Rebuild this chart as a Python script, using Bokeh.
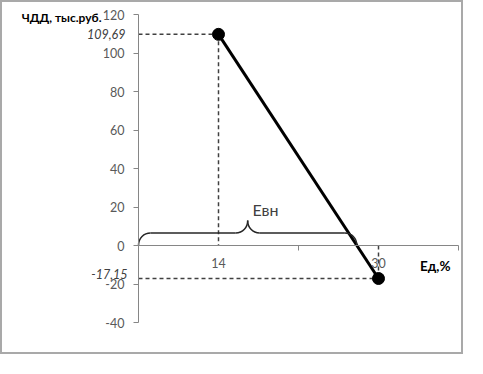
from bokeh.plotting import figure
from bokeh.models import (Range1d, LinearAxis, FixedTicker, Label)
from bokeh.embed import file_html
from bokeh.resources import INLINE

# ---- data ----
rates = ["14", "30"]                 # discount rate, %
npv = [109.69, -17.15]               # NPV (ЧДД), thousand rub.
npv_labels = ["109,69", "-17,15"]
y_ticks = [-40, -20, 0, 20, 40, 60, 80, 100, 120]
y_title = "ЧДД, тыс.руб."
x_title = "Ед,%"
irr_label = "Евн"

FONT = "Lato"
AX = "#868686"
xs = [i + 0.5 for i in range(len(rates))]

# layout: canvas 463x354, plot area from px 136..456 (x) and 12..320 (y)
W, H = 463, 354
L, R, T, B = 136, 7, 12, 34
kx = (W - L - R) / len(rates)
ky = (H - T - B) / (max(y_ticks) - min(y_ticks))
x_range = Range1d(-L / kx, len(rates) + R / kx)
y_range = Range1d(min(y_ticks) - B / ky, max(y_ticks) + T / ky)

p = figure(width=W, height=H, output_backend="svg", toolbar_location=None,
           x_range=x_range, y_range=y_range, x_axis_type=None, y_axis_type=None,
           min_border=0)
p.styles = {"border": "2px solid #a9a9a9"}
p.outline_line_color = None
p.background_fill_color = "white"

# y axis at x = 0
ya = LinearAxis(fixed_location=0, bounds=(min(y_ticks), max(y_ticks)),
                ticker=FixedTicker(ticks=y_ticks),
                major_label_overrides={t: str(t) for t in y_ticks})
ya.axis_line_color = AX
ya.major_tick_line_color = AX
ya.major_tick_out = 5
ya.major_tick_in = 0
ya.minor_tick_line_color = None
ya.major_label_text_font = FONT
ya.major_label_text_font_size = "12.5px"
ya.major_label_text_color = "#595959"
ya.major_label_standoff = 9
p.add_layout(ya, "left")

# x axis at y = 0
xa = LinearAxis(fixed_location=0, bounds=(0, len(rates)),
                ticker=FixedTicker(ticks=xs, minor_ticks=list(range(len(rates) + 1))),
                major_label_overrides={x: r for x, r in zip(xs, rates)})
xa.axis_line_color = AX
xa.major_tick_line_color = None
xa.major_tick_out = 0
xa.major_tick_in = 0
xa.minor_tick_line_color = AX
xa.minor_tick_out = 5
xa.minor_tick_in = 0
xa.major_label_text_font = FONT
xa.major_label_text_font_size = "12.5px"
xa.major_label_text_color = "#595959"
xa.major_label_standoff = 7
p.add_layout(xa, "below")

# dashed guide lines
dash_kw = dict(line_color="#404040", line_width=1.5, line_dash="4 3")
p.segment(x0=[0, xs[0]], y0=[npv[0], npv[0]], x1=[xs[0], xs[0]], y1=[npv[0], 0], **dash_kw)
p.segment(x0=[0, xs[1]], y0=[npv[1], 0], x1=[xs[1], xs[1]], y1=[npv[1], npv[1]], **dash_kw)

# main line + points
p.line(xs, npv, line_color="black", line_width=3)
p.scatter(xs, npv, size=12, color="black")

# brace from 0 to zero-crossing (IRR)
xc = xs[0] + npv[0] / (npv[0] - npv[1]) * (xs[1] - xs[0])
h = 6.5      # brace level
r = 0.075    # curl width
xm = xc / 2
bk = dict(line_color="#262626", line_width=1.5)
p.bezier(x0=[0, xm - r, xm + r, xc - r], y0=[0, h, h, h],
         x1=[r, xm, xm, xc], y1=[h, 2 * h, 2 * h, 0],
         cx0=[0, xm - r * 0.4, xm + r * 0.4, xc - r * 0.45], cy0=[h * 0.6, h, h, h],
         cx1=[r * 0.45, xm, xm, xc], cy1=[h, h * 1.45, h * 1.45, h * 0.6], **bk)
p.segment(x0=[r, xm + r], y0=[h, h], x1=[xm - r, xc - r], y1=[h, h], **bk)

# texts (pixel gaps converted to data units)
lab = dict(text_font=FONT, text_font_size="12.5px")
p.add_layout(Label(x=-13 / kx, y=npv[0], text=npv_labels[0], text_font_style="italic",
                   text_color="#404040", text_align="right", text_baseline="middle", **lab))
p.add_layout(Label(x=-11 / kx, y=npv[1], text=npv_labels[1], text_font_style="italic",
                   text_color="#404040", text_align="right", text_baseline="bottom", **lab))
p.add_layout(Label(x=-37 / kx, y=max(y_ticks) - 3 / ky, text=y_title, text_font_style="bold",
                   text_color="black", text_align="right", text_baseline="middle",
                   text_font=FONT, text_font_size="12px"))
p.add_layout(Label(x=xm + 0.03, y=2 * h + 1, text=irr_label, text_font=FONT,
                   text_font_size="16px", text_color="#404040",
                   text_align="left", text_baseline="bottom"))
p.add_layout(Label(x=len(rates) - 8 / kx, y=-12 / ky, text=x_title,
                   text_font=FONT, text_font_size="13.5px", text_font_style="bold",
                   text_color="black", text_align="right", text_baseline="top"))

open("out.html", "w").write(file_html(p, INLINE))
